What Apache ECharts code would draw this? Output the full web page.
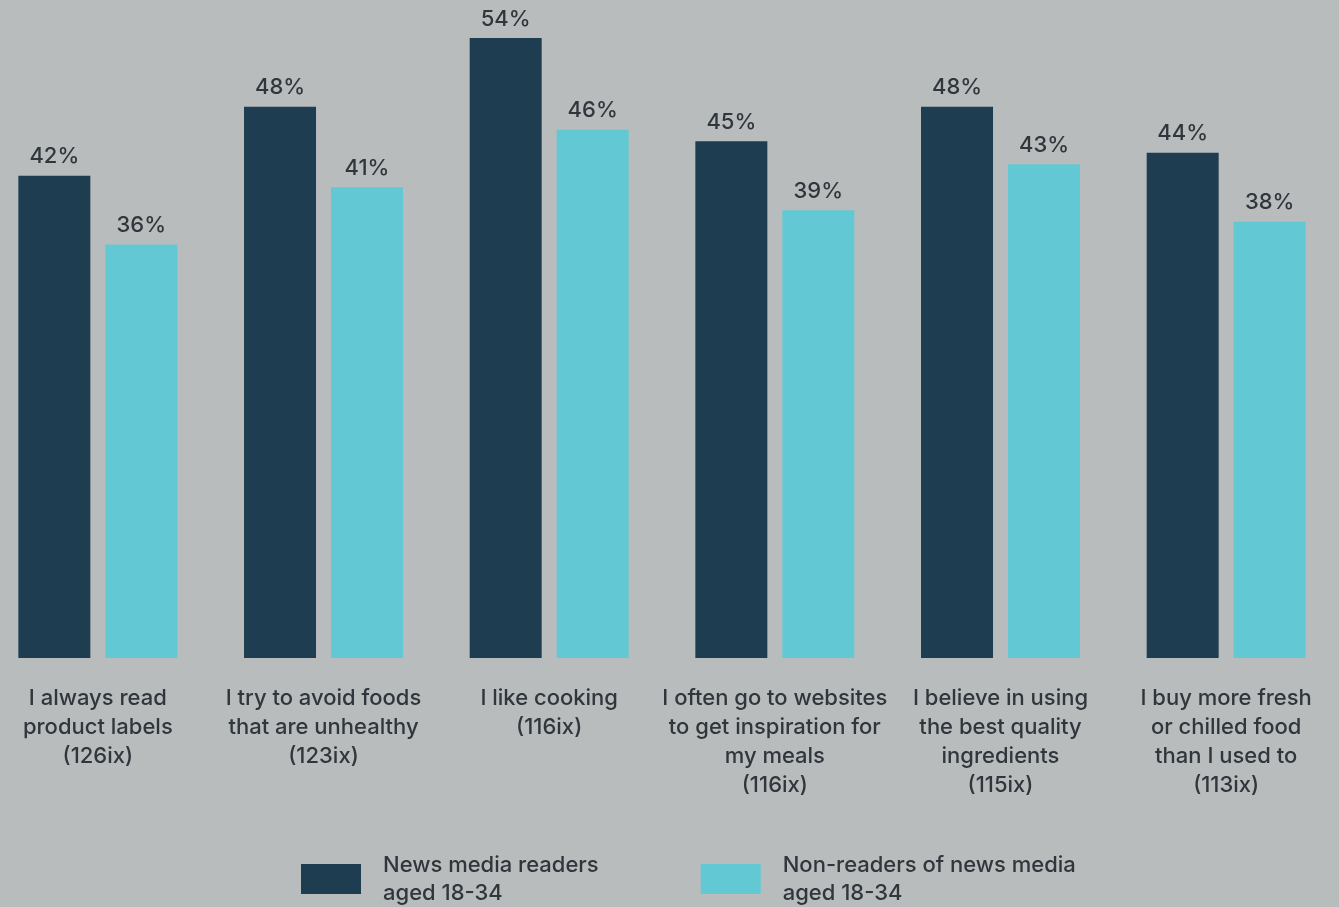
<!DOCTYPE html>
<html>
<head>
<meta charset="utf-8">
<script src="https://cdn.jsdelivr.net/npm/echarts@6/dist/echarts.min.js"></script>
<style>
  html, body { margin: 0; padding: 0; background: #b9bcbd; overflow: hidden; }
  /* a little wider than the window so the outer bars sit where the original puts them */
  #chart { width: 1354px; height: 907px; margin-left: -15px; }
</style>
</head>
<body>
<div id="chart"></div>
<script>
// Chart data
const categories = [
  'I always read\nproduct labels\n(126ix)',
  'I try to avoid foods\nthat are unhealthy\n(123ix)',
  'I like cooking\n(116ix)',
  'I often go to websites\nto get inspiration for\nmy meals\n(116ix)',
  'I believe in using\nthe best quality\ningredients\n(115ix)',
  'I buy more fresh\nor chilled food\nthan I used to\n(113ix)',
];
const readers = [42, 48, 54, 45, 48, 44];
const nonReaders = [36, 41, 46, 39, 43, 38];
const seriesNames = ['News media readers\naged 18-34', 'Non-readers of news media\naged 18-34'];

const textColor = '#30373c';
const fontFamily = 'Inter, "Noto Sans", sans-serif';

const chart = echarts.init(document.getElementById('chart'));

const barLabel = {
  show: true,
  position: 'top',
  distance: 8,
  formatter: '{c}%',
  color: textColor,
  fontSize: 22,
  fontWeight: 500,
  fontFamily,
};

chart.setOption({
  backgroundColor: '#b9bcbd',
  animation: false,
  grid: { left: 0, right: 0, top: 0, bottom: 249 },
  legend: {
    left: 311,
    top: 846,
    itemWidth: 60,
    itemHeight: 30,
    itemGap: 102,
    icon: 'rect',
    textStyle: {
      color: textColor,
      fontSize: 22,
      fontWeight: 500,
      fontFamily,
      lineHeight: 28,
      padding: [0, 0, 0, 17],
    },
    data: seriesNames,
  },
  xAxis: {
    type: 'category',
    data: categories,
    axisLine: { show: false },
    axisTick: { show: false },
    axisLabel: {
      interval: 0,
      margin: 26,
      color: textColor,
      fontSize: 22,
      fontWeight: 500,
      fontFamily,
      lineHeight: 29,
    },
  },
  yAxis: {
    type: 'value',
    min: 0,
    max: 57.3,
    show: false,
    splitLine: { show: false },
  },
  series: [
    {
      name: seriesNames[0],
      type: 'bar',
      data: readers,
      barWidth: 72,
      barGap: '20.8%',
      itemStyle: { color: '#1f3d51' },
      label: barLabel,
    },
    {
      name: seriesNames[1],
      type: 'bar',
      data: nonReaders,
      barWidth: 72,
      itemStyle: { color: '#62c9d4' },
      label: barLabel,
    },
  ],
});
</script>
</body>
</html>
